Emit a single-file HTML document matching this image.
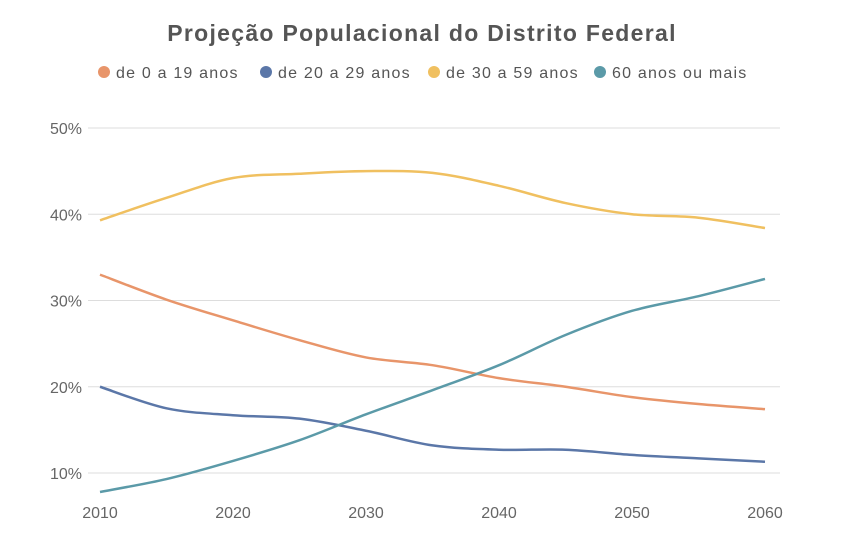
<!DOCTYPE html>
<html><head><meta charset="utf-8"><style>
body{margin:0;background:#fff;font-family:"Liberation Sans",sans-serif;}
svg{display:block}
</style></head><body>
<svg id="chart" width="845" height="560">
<text x="422" y="41" text-anchor="middle" font-size="23" font-weight="bold" letter-spacing="1.3" fill="#555">Projeção Populacional do Distrito Federal</text>
<g id="legend"></g>
<g id="grid"></g>
<g id="yaxis"></g>
<g id="xaxis"></g>
<g id="series"></g>
</svg>
<script>
const years=[2010,2015,2020,2025,2030,2035,2040,2045,2050,2055,2060];
const seriesNames=["de 0 a 19 anos","de 20 a 29 anos","de 30 a 59 anos","60 anos ou mais"];
const age0to19=[33.0,30.1,27.7,25.4,23.4,22.5,21.0,20.0,18.8,18.0,17.4];
const age20to29=[20.0,17.5,16.7,16.3,14.9,13.2,12.7,12.7,12.1,11.7,11.3];
const age30to59=[39.3,41.9,44.2,44.7,45.0,44.8,43.3,41.3,40.0,39.6,38.4];
const age60plus=[7.8,9.3,11.4,13.8,16.8,19.6,22.5,26.0,28.8,30.5,32.5];
const yTicks=[10,20,30,40,50];
const xTicks=[2010,2020,2030,2040,2050,2060];
const colors=["#E8956A","#5B77A8","#F0C060","#5B9AA8"];
const NS="http://www.w3.org/2000/svg";
const xs=y=>100+(y-2010)*13.3;
const ys=v=>473-(v-10)*8.625;
function mk(t,a,p){const e=document.createElementNS(NS,t);for(const k in a)e.setAttribute(k,a[k]);p.appendChild(e);return e;}
const grid=document.getElementById('grid'),ya=document.getElementById('yaxis'),xa=document.getElementById('xaxis');
yTicks.forEach(v=>{
 const l=mk('line',{x1:88,x2:780,y1:ys(v),y2:ys(v),stroke:'#ddd','stroke-width':1},grid);
 
 
 const t=mk('text',{x:82,y:ys(v)+6,'text-anchor':'end','font-size':16,fill:'#666'},ya);
 t.textContent=v+'%';
 
 
});
xTicks.forEach(y=>{
 const t=mk('text',{x:xs(y),y:518,'text-anchor':'middle','font-size':16,fill:'#666'},xa);
 t.textContent=y;
 
 
});
function smooth(pts){let d='M'+pts[0][0]+','+pts[0][1];
 for(let i=0;i<pts.length-1;i++){const p0=pts[i-1]||pts[i],p1=pts[i],p2=pts[i+1],p3=pts[i+2]||p2;
  d+=' C'+(p1[0]+(p2[0]-p0[0])/6)+','+(p1[1]+(p2[1]-p0[1])/6)+' '+(p2[0]-(p3[0]-p1[0])/6)+','+(p2[1]-(p3[1]-p1[1])/6)+' '+p2[0]+','+p2[1];}
 return d;}
const sg=document.getElementById('series');
[age0to19,age20to29,age30to59,age60plus].forEach((arr,i)=>{
 const p=mk('path',{d:smooth(arr.map((v,j)=>[xs(years[j]),ys(v)])),fill:'none',stroke:colors[i],'stroke-width':2.5},sg);
 
 
});
const lg=document.getElementById('legend');
const lx=[104,266,434,600];
seriesNames.forEach((n,i)=>{
 const c=mk('circle',{cx:lx[i],cy:72,r:6,fill:colors[i]},lg);
 
 
 const t=mk('text',{x:lx[i]+12,y:78,'font-size':16,'letter-spacing':1.2,fill:'#555'},lg);
 t.textContent=n;
 
 
});
</script>
</body></html>
